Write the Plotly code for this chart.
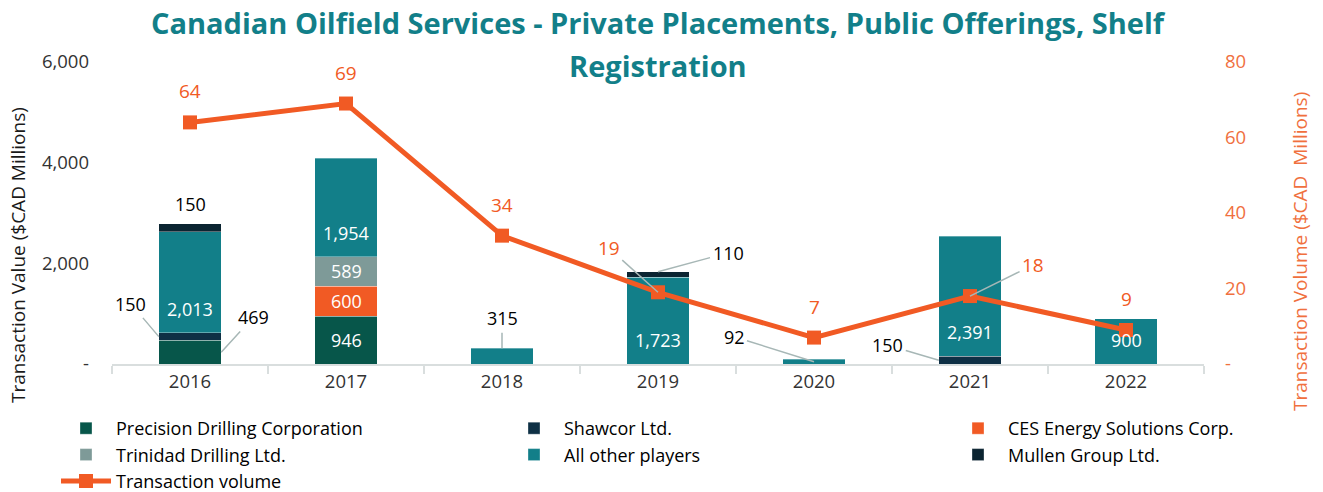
import plotly.graph_objects as go

# ---------------- data ----------------
years = ["2016", "2017", "2018", "2019", "2020", "2021", "2022"]
precision = [469, 946, None, None, None, None, None]
shawcor = [150, None, None, None, None, 150, None]
ces = [None, 600, None, None, None, None, None]
trinidad = [None, 589, None, None, None, None, None]
others = [2013, 1954, 315, 1723, 92, 2391, 900]
mullen = [150, None, None, 110, None, None, None]
volume = [64, 69, 34, 19, 7, 18, 9]

# ---------------- styles ----------------
FONT = "Open Sans"
TEAL = "#127F89"
ORANGE = "#F15A24"
ORANGE_TXT = "#F0703E"
GREY_LINE = "#A7B7B6"
LBL = 18

bar_series = [
    ("Precision Drilling Corporation", precision, "#07564A", "legend"),
    ("Shawcor Ltd.", shawcor, "#0E3045", "legend2"),
    ("CES Energy Solutions Corp.", ces, ORANGE, "legend3"),
    ("Trinidad Drilling Ltd.", trinidad, "#7E9A98", "legend"),
    ("All other players", others, TEAL, "legend2"),
    ("Mullen Group Ltd.", mullen, "#0B2431", "legend3"),
]

HALF = 0.2  # half bar width in category units (bargap 0.6)

# label placement styles for bar segments
label_style = {
    ("Precision Drilling Corporation", 0): dict(kind="leader", at="mid", side=1, ax=32, ay=-35),
    ("Shawcor Ltd.", 0): dict(kind="leader", at="mid", side=-1, ax=-28, ay=-33),
    ("All other players", 0): dict(kind="low"),
    ("Mullen Group Ltd.", 0): dict(kind="above"),
    ("Precision Drilling Corporation", 1): dict(kind="mid"),
    ("CES Energy Solutions Corp.", 1): dict(kind="mid"),
    ("Trinidad Drilling Ltd.", 1): dict(kind="mid"),
    ("All other players", 1): dict(kind="low"),
    ("All other players", 2): dict(kind="leader", at="top", side=0, ax=0, ay=-30),
    ("All other players", 3): dict(kind="low"),
    ("Mullen Group Ltd.", 3): dict(kind="leader", at="top", side=0, ax=70, ay=-19),
    ("All other players", 4): dict(kind="leader", at="mid", side=0, ax=-80, ay=-25),
    ("Shawcor Ltd.", 5): dict(kind="leader", at="mid", side=-1, ax=-51, ay=-15),
    ("All other players", 5): dict(kind="low"),
    ("All other players", 6): dict(kind="low"),
}
line_label_style = {
    3: dict(ax=-49, ay=-44),
    5: dict(ax=63, ay=-31),
}

fig = go.Figure()

cum = [0] * len(years)
annotations = []
for name, vals, color, leg in bar_series:
    fig.add_trace(go.Bar(
        x=years, y=vals, name=name,
        marker=dict(color=color, line=dict(width=0.6, color="rgba(255,255,255,0.55)")),
        legend=leg, hoverinfo="skip",
    ))
    for i, v in enumerate(vals):
        if not v:
            continue
        bottom = cum[i]
        cum[i] += v
        st = label_style.get((name, i))
        if st is None:
            continue
        txt = f"{v:,}"
        kind = st["kind"]
        if kind == "mid":
            annotations.append(dict(x=i, y=bottom + v / 2, text=txt, showarrow=False,
                                    font=dict(color="white", size=LBL, family=FONT)))
        elif kind == "low":
            annotations.append(dict(x=i, y=bottom, yshift=24, text=txt, showarrow=False,
                                    font=dict(color="white", size=LBL, family=FONT)))
        elif kind == "above":
            annotations.append(dict(x=i, y=bottom + v, yshift=20, text=txt, showarrow=False,
                                    font=dict(color="black", size=LBL, family=FONT)))
        else:
            py = bottom + v / 2 if st["at"] == "mid" else bottom + v
            annotations.append(dict(x=i + st["side"] * HALF, y=py, text=txt, showarrow=True,
                                    ax=st["ax"], ay=st["ay"], arrowhead=0, arrowwidth=1.5,
                                    arrowcolor=GREY_LINE, standoff=0, startstandoff=1,
                                    font=dict(color="black", size=LBL, family=FONT)))

for a in annotations:
    a.update(xref="x", yref="y")

fig.add_trace(go.Scatter(
    x=years, y=volume, name="Transaction volume", yaxis="y2", mode="lines+markers",
    line=dict(color=ORANGE, width=5), marker=dict(symbol="square", size=14, color=ORANGE),
    legend="legend", hoverinfo="skip",
))

for i, v in enumerate(volume):
    st = line_label_style.get(i)
    if st:
        annotations.append(dict(x=i, y=v, xref="x", yref="y2", text=str(v), showarrow=True,
                                ax=st["ax"], ay=st["ay"], arrowhead=0, arrowwidth=1.5,
                                arrowcolor=GREY_LINE, standoff=0, startstandoff=1,
                                font=dict(color=ORANGE, size=LBL + 1, family=FONT)))
    else:
        annotations.append(dict(x=i, y=v, xref="x", yref="y2", yshift=31, text=str(v),
                                showarrow=False, font=dict(color=ORANGE, size=LBL + 1, family=FONT)))

# title lines
annotations.append(dict(x=0.5, y=(364 - 22) / 302, xref="paper", yref="paper", showarrow=False,
                        xanchor="center", yanchor="middle",
                        text="<b>Canadian Oilfield Services - Private Placements, Public Offerings, Shelf</b>",
                        font=dict(color=TEAL, size=29, family=FONT)))
annotations.append(dict(x=0.5, y=(364 - 65) / 302, xref="paper", yref="paper", showarrow=False,
                        xanchor="center", yanchor="middle",
                        text="<b>Registration</b>",
                        font=dict(color=TEAL, size=29, family=FONT)))
# axis titles
annotations.append(dict(x=(18 - 112) / 1092, y=(364 - 255) / 302, xref="paper", yref="paper",
                        showarrow=False, xanchor="center", yanchor="middle",
                        text="Transaction Value ($CAD Millions)", textangle=-90,
                        font=dict(color="#1a1a1a", size=19, family=FONT)))
annotations.append(dict(x=(1300 - 112) / 1092, y=(364 - 252) / 302, xref="paper", yref="paper",
                        showarrow=False, xanchor="center", yanchor="middle",
                        text="Transaction Volume ($CAD  Millions)", textangle=-90,
                        font=dict(color=ORANGE_TXT, size=19, family=FONT)))

legend_common = dict(
    orientation="v", xref="container", yref="container", xanchor="left", yanchor="top",
    font=dict(size=18, color="black", family=FONT), itemwidth=50, traceorder="normal",
    bgcolor="rgba(0,0,0,0)",
)

fig.update_layout(
    template="none",
    width=1323, height=492,
    margin=dict(l=112, r=119, t=62, b=128, autoexpand=False),
    paper_bgcolor="white", plot_bgcolor="white",
    barmode="stack", bargap=0.6,
    font=dict(family=FONT, color="#404040"),
    showlegend=True,
    legend=dict(x=56 / 1323, y=1 - 410 / 492, **legend_common),
    legend2=dict(x=504 / 1323, y=1 - 410 / 492, **legend_common),
    legend3=dict(x=948 / 1323, y=1 - 410 / 492, **legend_common),
    xaxis=dict(type="category", range=[-0.5, 6.5], tickson="boundaries", ticks="outside",
               ticklen=8, tickwidth=2, tickcolor="#D9DEDE", showline=True, linecolor="#D9DEDE",
               linewidth=2, showgrid=False, zeroline=False,
               tickfont=dict(size=18.5, color="#333333", family=FONT)),
    yaxis=dict(range=[0, 6000], tickvals=[0, 2000, 4000, 6000],
               ticktext=["-", "2,000", "4,000", "6,000"], showgrid=False, zeroline=False,
               showline=False, ticks="", ticklabelstandoff=22,
               tickfont=dict(size=18.5, color="#333333", family=FONT)),
    yaxis2=dict(range=[0, 80], tickvals=[0, 20, 40, 60, 80], ticktext=["-", "20", "40", "60", "80"],
                overlaying="y", side="right", showgrid=False, zeroline=False, showline=False,
                ticks="", ticklabelstandoff=20,
                tickfont=dict(size=18.5, color=ORANGE_TXT, family=FONT)),
    annotations=annotations,
)

fig.write_html("out.html", config={"displayModeBar": False},
               post_script="document.body.style.margin='0';document.body.style.overflow='hidden';")
